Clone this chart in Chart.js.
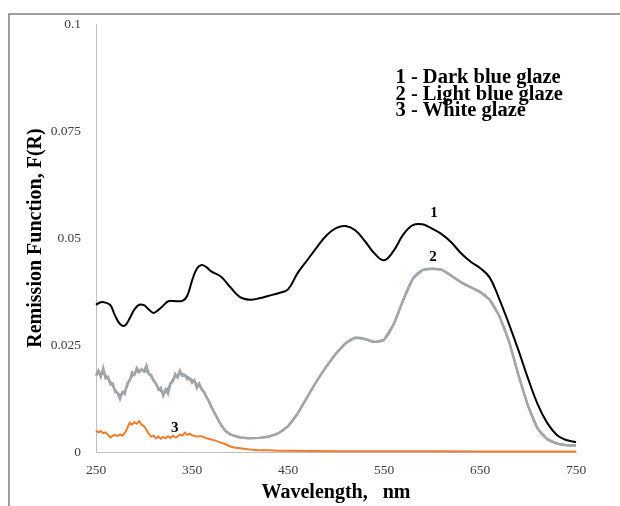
<!DOCTYPE html>
<html>
<head>
<meta charset="utf-8">
<script src="https://cdn.jsdelivr.net/npm/chart.js@4/dist/chart.umd.min.js"></script>
<style>
  html, body { margin: 0; padding: 0; background: #fff; }
  #wrap { position: relative; width: 620px; height: 506px; }
</style>
</head>
<body>
<div id="wrap"><canvas id="remissionChart" width="620" height="506"></canvas></div>
<script>
// 1 - Dark blue glaze (smooth black curve)
const darkWl = [250, 255, 260, 265, 270, 275, 280, 285, 290, 295, 300, 305, 310, 315, 320, 325, 330, 340, 345, 350, 355, 360, 365, 370, 380, 390, 400, 410, 420, 430, 440, 450, 460, 470, 480, 490, 500, 510, 520, 530, 540, 550, 560, 570, 580, 590, 600, 610, 620, 630, 640, 650, 660, 670, 680, 690, 700, 710, 720, 730, 740, 750];
const darkF = [0.0344, 0.0350, 0.0349, 0.0343, 0.0318, 0.0299, 0.0295, 0.0312, 0.0333, 0.0344, 0.0343, 0.0333, 0.0325, 0.0332, 0.0342, 0.0352, 0.0353, 0.0353, 0.0365, 0.0400, 0.0428, 0.0437, 0.0432, 0.0422, 0.0410, 0.0385, 0.0362, 0.0356, 0.0359, 0.0365, 0.0371, 0.0380, 0.0418, 0.0448, 0.0478, 0.0506, 0.0523, 0.0528, 0.0518, 0.0493, 0.0464, 0.0448, 0.0470, 0.0508, 0.0530, 0.0532, 0.0522, 0.0509, 0.0490, 0.0465, 0.0445, 0.0430, 0.0408, 0.0358, 0.0300, 0.0238, 0.0172, 0.0112, 0.0068, 0.0040, 0.0028, 0.0023];

// 2 - Light blue glaze: smoothed (blue) and measured (grey) curves
const lightSmoothWl = [250, 255, 260, 265, 270, 275, 280, 285, 290, 295, 300, 305, 310, 315, 320, 325, 330, 335, 340, 345, 350, 355, 360, 365, 370, 375, 380, 385, 390, 400, 410, 420, 430, 440, 450, 460, 470, 480, 490, 500, 510, 520, 530, 540, 550, 560, 570, 580, 590, 600, 610, 620, 630, 640, 650, 660, 670, 680, 690, 700, 710, 720, 730, 740, 750];
const lightSmoothF = [0.0180, 0.0185, 0.0179, 0.0164, 0.0145, 0.0134, 0.0143, 0.0168, 0.0184, 0.0190, 0.0191, 0.0184, 0.0168, 0.0149, 0.0139, 0.0149, 0.0169, 0.0180, 0.0182, 0.0176, 0.0168, 0.0159, 0.0149, 0.0129, 0.0107, 0.0085, 0.0064, 0.0049, 0.0041, 0.0034, 0.0032, 0.0033, 0.0036, 0.0044, 0.0060, 0.0090, 0.0128, 0.0166, 0.0200, 0.0230, 0.0254, 0.0267, 0.0264, 0.0257, 0.0262, 0.0298, 0.0355, 0.0405, 0.0425, 0.0428, 0.0426, 0.0412, 0.0397, 0.0385, 0.0374, 0.0356, 0.0318, 0.0260, 0.0180, 0.0108, 0.0055, 0.0030, 0.0020, 0.0016, 0.0015];
const lightWl = [250, 252.5, 255, 257.5, 260, 262.5, 265, 267.5, 270, 272.5, 275, 277.5, 280, 282.5, 285, 287.5, 290, 292.5, 295, 297.5, 300, 302.5, 305, 307.5, 310, 312.5, 315, 317.5, 320, 322.5, 325, 327.5, 330, 332.5, 335, 337.5, 340, 342.5, 345, 347.5, 350, 352.5, 355, 357.5, 360, 362.5, 365, 367.5, 370, 375, 380, 385, 390, 400, 410, 420, 430, 440, 450, 460, 470, 480, 490, 500, 510, 520, 530, 540, 550, 560, 570, 580, 590, 600, 610, 620, 630, 640, 650, 660, 670, 680, 690, 700, 710, 720, 730, 740, 750];
const lightF = [0.0178, 0.0190, 0.0176, 0.0196, 0.0172, 0.0175, 0.0158, 0.0160, 0.0140, 0.0138, 0.0124, 0.0140, 0.0136, 0.0160, 0.0166, 0.0186, 0.0180, 0.0196, 0.0186, 0.0193, 0.0188, 0.0202, 0.0182, 0.0180, 0.0166, 0.0160, 0.0146, 0.0150, 0.0132, 0.0146, 0.0136, 0.0160, 0.0164, 0.0182, 0.0174, 0.0190, 0.0178, 0.0180, 0.0170, 0.0172, 0.0162, 0.0168, 0.0150, 0.0160, 0.0146, 0.0140, 0.0128, 0.0120, 0.0106, 0.0085, 0.0064, 0.0049, 0.0041, 0.0034, 0.0032, 0.0033, 0.0036, 0.0044, 0.0060, 0.0090, 0.0128, 0.0166, 0.0200, 0.0230, 0.0254, 0.0267, 0.0264, 0.0257, 0.0262, 0.0298, 0.0355, 0.0405, 0.0425, 0.0428, 0.0426, 0.0412, 0.0397, 0.0385, 0.0374, 0.0356, 0.0318, 0.0260, 0.0180, 0.0108, 0.0055, 0.0030, 0.0020, 0.0016, 0.0015];

// 3 - White glaze (orange, noisy)
const whiteWl = [250, 252.5, 255, 257.5, 260, 262.5, 265, 267.5, 270, 272.5, 275, 277.5, 280, 282.5, 285, 287.5, 290, 292.5, 295, 297.5, 300, 302.5, 305, 307.5, 310, 312.5, 315, 317.5, 320, 322.5, 325, 327.5, 330, 332.5, 335, 337.5, 340, 342.5, 345, 347.5, 350, 355, 360, 365, 370, 375, 380, 385, 390, 395, 400, 410, 420, 430, 440, 450, 500, 550, 600, 650, 700, 750];
const whiteF = [0.0050, 0.0046, 0.0049, 0.0044, 0.0046, 0.0040, 0.0034, 0.0038, 0.0040, 0.0037, 0.0041, 0.0038, 0.0045, 0.0055, 0.0068, 0.0064, 0.0070, 0.0066, 0.0072, 0.0064, 0.0060, 0.0052, 0.0042, 0.0036, 0.0038, 0.0032, 0.0036, 0.0031, 0.0035, 0.0032, 0.0037, 0.0033, 0.0038, 0.0034, 0.0036, 0.0041, 0.0038, 0.0045, 0.0040, 0.0043, 0.0039, 0.0036, 0.0037, 0.0032, 0.0029, 0.0026, 0.0022, 0.0018, 0.0013, 0.0010, 0.0009, 0.0006, 0.0004, 0.0004, 0.0003, 0.0003, 0.0002, 0.0002, 0.0002, 0.0001, 0.0001, 0.0001];

const xTicks = [250, 350, 450, 550, 650, 750];
const yTicks = [0, 0.025, 0.05, 0.075, 0.1];
const yTickLabels = ['0', '0.025', '0.05', '0.075', '0.1'];

const legendLines = ['1 - Dark blue glaze', '2 - Light blue glaze', '3 - White glaze'];

const serif = "'Liberation Serif', 'Times New Roman', serif";

function toPoints(xs, ys) {
    return xs.map((x, i) => ({ x: x, y: ys[i] }));
}

// thin grey frame (top and left edges of the original figure)
const framePlugin = {
    id: 'frame',
    beforeDraw(chart) {
        const ctx = chart.ctx;
        ctx.save();
        ctx.strokeStyle = '#7f7f7f';
        ctx.lineWidth = 1.5;
        ctx.beginPath();
        ctx.moveTo(620, 14);
        ctx.lineTo(9, 14);
        ctx.lineTo(9, 506);
        ctx.stroke();
        ctx.restore();
    }
};

// curve numbers and the text legend, placed in data coordinates
const labelsPlugin = {
    id: 'curveLabels',
    afterDatasetsDraw(chart) {
        const ctx = chart.ctx;
        const xs = chart.scales.x;
        const ys = chart.scales.y;
        ctx.save();
        ctx.fillStyle = '#000';
        ctx.textBaseline = 'middle';

        ctx.font = 'bold 15px ' + serif;
        ctx.textAlign = 'center';
        ctx.fillText('1', xs.getPixelForValue(602), ys.getPixelForValue(0.0558));
        ctx.fillText('2', xs.getPixelForValue(601), ys.getPixelForValue(0.0455));
        ctx.fillText('3', xs.getPixelForValue(332), ys.getPixelForValue(0.0056));

        ctx.font = 'bold 20.5px ' + serif;
        ctx.textAlign = 'left';
        const lx = xs.getPixelForValue(562);
        const ly = ys.getPixelForValue(0.0874);
        legendLines.forEach((t, i) => ctx.fillText(t, lx, ly + i * 16.5));
        ctx.restore();
    }
};

const ctx = document.getElementById('remissionChart');
new Chart(ctx, {
    type: 'line',
    data: {
        datasets: [
            {
                label: '3 - White glaze',
                data: toPoints(whiteWl, whiteF),
                borderColor: '#ED7D31',
                borderWidth: 2,
                tension: 0,
                clip: false
            },
            {
                label: '1 - Dark blue glaze',
                data: toPoints(darkWl, darkF),
                borderColor: '#000000',
                borderWidth: 2,
                tension: 0.4,
                clip: false
            },
            {
                label: '2 - Light blue glaze',
                data: toPoints(lightWl, lightF),
                borderColor: '#A5A5A5',
                borderWidth: 2.5,
                tension: 0,
                clip: false
            },
            {
                label: '2 - Light blue glaze (smoothed)',
                data: toPoints(lightSmoothWl, lightSmoothF),
                borderColor: '#5B9BD5',
                borderWidth: 2,
                tension: 0.4,
                clip: false
            }
        ]
    },
    options: {
        responsive: false,
        animation: false,
        events: [],
        parsing: false,
        elements: {
            point: { radius: 0 }
        },
        layout: {
            padding: { top: 24, right: 44, left: 0, bottom: 0 }
        },
        plugins: {
            legend: { display: false },
            tooltip: { enabled: false }
        },
        scales: {
            x: {
                type: 'linear',
                min: 250,
                max: 750,
                afterBuildTicks: scale => { scale.ticks = xTicks.map(v => ({ value: v })); },
                afterFit: scale => { scale.height = 54; },
                grid: { display: false, drawTicks: false },
                border: { display: true, color: '#bfbfbf', width: 1 },
                ticks: {
                    padding: 10,
                    maxRotation: 0,
                    color: '#404040',
                    font: { family: serif, size: 13.5 }
                },
                title: {
                    display: true,
                    text: 'Wavelength,   nm',
                    color: '#000',
                    font: { family: serif, size: 20, weight: 'bold' },
                    padding: { top: 0, bottom: 1 }
                }
            },
            y: {
                min: 0,
                max: 0.1,
                afterBuildTicks: scale => { scale.ticks = yTicks.map(v => ({ value: v })); },
                afterFit: scale => { scale.width = 96; },
                grid: { display: false, drawTicks: false },
                border: { display: true, color: '#bfbfbf', width: 1 },
                ticks: {
                    padding: 15,
                    color: '#404040',
                    font: { family: serif, size: 13.5 },
                    callback: (value, index) => yTickLabels[index]
                },
                title: {
                    display: true,
                    text: 'Remission Function, F(R)',
                    color: '#000',
                    font: { family: serif, size: 20, weight: 'bold' },
                    padding: { top: 24, bottom: 0 }
                }
            }
        }
    },
    plugins: [framePlugin, labelsPlugin]
});
</script>
</body>
</html>
